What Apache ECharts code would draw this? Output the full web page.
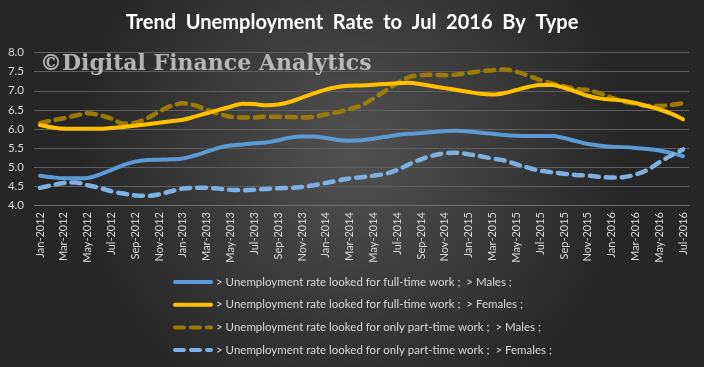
<!DOCTYPE html>
<html><head><meta charset="utf-8">
<script src="https://cdn.jsdelivr.net/npm/echarts@6/dist/echarts.min.js"></script>
<style>html,body{margin:0;padding:0;background:#333;}#c{width:704px;height:367px;}</style>
</head><body><div id="c"></div>
<script>
const monthNames = ['Jan','Feb','Mar','Apr','May','Jun','Jul','Aug','Sep','Oct','Nov','Dec'];
const categories = [];
for (let y = 2012; y <= 2016; y++) for (let m = 0; m < 12; m++) { if (y === 2016 && m > 6) break; categories.push(monthNames[m] + '-' + y); }

const seriesNames = [
  '> Unemployment rate looked for full-time work ;  > Males ;',
  '> Unemployment rate looked for full-time work ;  > Females ;',
  '> Unemployment rate looked for only part-time work ;  > Males ;',
  '> Unemployment rate looked for only part-time work ;  > Females ;'
];
const ftMales = [4.77,4.73,4.70,4.70,4.71,4.80,4.92,5.05,5.14,5.18,5.19,5.20,5.22,5.30,5.40,5.50,5.56,5.59,5.62,5.64,5.70,5.77,5.80,5.80,5.76,5.71,5.69,5.70,5.74,5.79,5.84,5.87,5.89,5.92,5.94,5.95,5.93,5.90,5.87,5.84,5.82,5.81,5.81,5.81,5.76,5.68,5.60,5.56,5.53,5.52,5.50,5.47,5.43,5.37,5.28];
const ftFemales = [6.10,6.04,6.00,6.00,6.00,6.00,6.02,6.05,6.08,6.12,6.16,6.20,6.24,6.32,6.41,6.50,6.58,6.66,6.65,6.62,6.64,6.71,6.82,6.93,7.03,7.10,7.13,7.14,7.16,7.18,7.20,7.21,7.17,7.12,7.07,7.02,6.97,6.92,6.90,6.94,7.02,7.10,7.15,7.15,7.08,6.98,6.87,6.80,6.77,6.74,6.68,6.60,6.51,6.40,6.25];
const ptMales = [6.15,6.22,6.28,6.35,6.41,6.36,6.27,6.14,6.16,6.28,6.45,6.60,6.67,6.62,6.50,6.40,6.32,6.30,6.30,6.32,6.32,6.31,6.30,6.32,6.38,6.44,6.52,6.62,6.80,7.00,7.20,7.36,7.41,7.42,7.41,7.43,7.47,7.51,7.54,7.56,7.50,7.40,7.28,7.19,7.12,7.05,7.02,6.93,6.82,6.72,6.66,6.60,6.60,6.63,6.67];
const ptFemales = [4.45,4.52,4.58,4.59,4.52,4.45,4.36,4.30,4.25,4.24,4.28,4.36,4.43,4.45,4.45,4.43,4.40,4.39,4.40,4.42,4.44,4.45,4.47,4.52,4.58,4.64,4.70,4.73,4.77,4.82,4.92,5.07,5.20,5.30,5.36,5.37,5.33,5.28,5.22,5.17,5.07,4.98,4.90,4.86,4.82,4.79,4.77,4.74,4.72,4.73,4.80,4.92,5.12,5.30,5.46];

const colors = ['#5B9BD5','#FFC000','#9C7A06','#7EB0E2'];
const dataSets = [ftMales, ftFemales, ptMales, ptFemales];
const dashed = [false,false,true,true];

const chart = echarts.init(document.getElementById('c'), null, {renderer:'canvas'});
chart.setOption({
  animation:false,
  backgroundColor:{type:'radial',x:0.5,y:0.42,r:0.75,colorStops:[{offset:0,color:'#525252'},{offset:1,color:'#262626'}]},
  title:{text:'Trend  Unemployment  Rate  to  Jul  2016  By  Type',left:'center',top:8,
    textStyle:{color:'#ffffff',fontFamily:'Lato',fontWeight:'bold',fontSize:20}},
  graphic:[{type:'text',left:40,top:53,z:10,style:{text:'©Digital Finance Analytics',fill:'rgba(205,205,205,0.85)',font:'bold 22px "DejaVu Serif"'}}],
  grid:{left:34,right:15,top:52.7,bottom:162},
  legend:{orient:'vertical',left:168,top:271,itemWidth:36,itemHeight:12,itemGap:10.7,
    itemStyle:{opacity:0},lineStyle:{width:4},
    textStyle:{color:'#d9d9d9',fontFamily:'Lato',fontSize:11.5},data:seriesNames},
  xAxis:{type:'category',data:categories,boundaryGap:true,
    axisLine:{lineStyle:{color:'#707070',width:1}},axisTick:{show:false},
    axisLabel:{interval:1,rotate:90,color:'#d9d9d9',fontFamily:'Lato',fontSize:11,margin:7}},
  yAxis:{type:'value',min:4,max:8,interval:0.5,
    axisLine:{show:false},axisTick:{show:false},
    splitLine:{lineStyle:{color:'#5f5f5f',width:1}},
    axisLabel:{color:'#d9d9d9',fontFamily:'Lato',fontSize:11.5,margin:10,formatter:v=>v.toFixed(1)}},
  series:dataSets.map((d,i)=>({
    name:seriesNames[i],type:'line',data:d,smooth:0.35,symbol:'none',
    z: i===3?5:(i===2?3:4),
    lineStyle:{color:colors[i],width:dashed[i]?4.5:4,type:dashed[i]?[9,7]:'solid',cap:'round'},
    itemStyle:{color:colors[i]}
  }))
});
</script></body></html>
